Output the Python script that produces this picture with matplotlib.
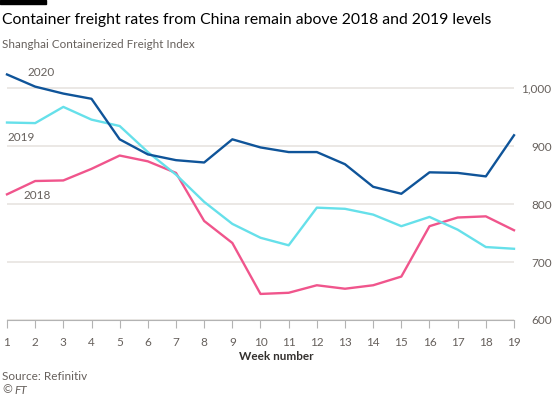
import matplotlib
matplotlib.use("Agg")
import matplotlib.pyplot as plt
from matplotlib.ticker import FuncFormatter

weeks = list(range(1, 20))
y2020 = [1024, 1003, 991, 982, 912, 886, 876, 872, 912, 898, 890, 890, 869, 830, 818, 855, 854, 848, 919]
y2019 = [941, 940, 968, 946, 935, 890, 851, 804, 766, 742, 729, 794, 792, 782, 762, 778, 756, 726, 723]
y2018 = [817, 840, 841, 861, 884, 874, 854, 771, 733, 645, 647, 660, 654, 660, 675, 762, 777, 779, 755]

plt.rcParams['font.family'] = ['Lato', 'DejaVu Sans']

fig = plt.figure(figsize=(5.54, 3.96), dpi=100)
ax = fig.add_axes([7/554, 76/396, 507/554, 254.8/396])

ax.plot(weeks, y2018, color="#f0558c", lw=1.7, clip_on=False, zorder=3)
ax.plot(weeks, y2019, color="#66e0ea", lw=1.7, clip_on=False, zorder=3)
ax.plot(weeks, y2020, color="#0f5499", lw=1.7, clip_on=False, zorder=4)

ax.text(1.72, 1027, "2020", color="#66605c", fontsize=8.5, va="center")
ax.text(1.0, 915, "2019", color="#66605c", fontsize=8.5, va="center")
ax.text(1.6, 815, "2018", color="#66605c", fontsize=8.5, va="center")

ax.set_xlim(1, 19)
ax.set_ylim(600, 1040)
ax.set_xticks(weeks)
ax.set_yticks([600, 700, 800, 900, 1000])
ax.yaxis.set_major_formatter(FuncFormatter(lambda v, p: f"{int(v):,}"))
ax.yaxis.tick_right()
ax.tick_params(axis="y", length=0, pad=27, labelsize=8.5, labelcolor="#66605c")
for lbl in ax.get_yticklabels():
    lbl.set_ha("right")
ax.tick_params(axis="x", length=6, width=0.8, color="#b3b3b3", pad=6,
               labelsize=8.5, labelcolor="#66605c", direction="out")
ax.grid(axis="y", color="#e9e6e3", lw=1.3)
ax.set_axisbelow(True)
for s in ["top", "right", "left"]:
    ax.spines[s].set_visible(False)
ax.spines["bottom"].set_color("#b3b3b3")
ax.spines["bottom"].set_linewidth(0.8)

fig.text(276/554, 1 - 357/396, "Week number", ha="center", va="center",
         fontsize=8.5, fontweight="bold", color="#33302e")

fig.add_artist(plt.Rectangle((0, 1 - 4/396), 46/554, 4/396, color="black",
                             transform=fig.transFigure))
fig.text(2/554, 1 - 20/396, "Container freight rates from China remain above 2018 and 2019 levels",
         fontsize=11.3, color="#000000", va="center", ha="left")
fig.text(2/554, 1 - 45/396, "Shanghai Containerized Freight Index",
         fontsize=8.4, color="#66605c", va="center", ha="left")
fig.text(2/554, 1 - 376/396, "Source: Refinitiv", fontsize=8.5, color="#66605c", va="center")
fig.text(2/554, 1 - 390/396, "©", fontsize=8.5, color="#66605c", va="center")
fig.text(14/554, 1 - 390/396, "FT", fontsize=8.5, color="#66605c", va="center", style="italic")

fig.savefig("out.png", dpi=100, facecolor="white")
